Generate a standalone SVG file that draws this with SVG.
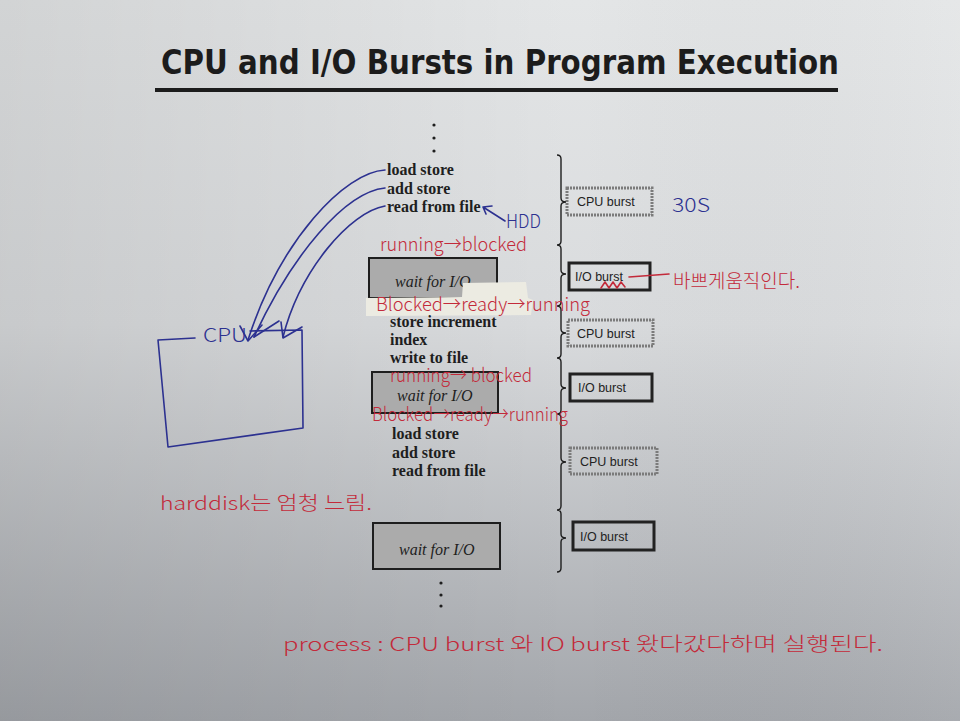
<svg xmlns="http://www.w3.org/2000/svg" width="960" height="721" viewBox="0 0 960 721">
<defs>
<linearGradient id="bg" x1="0" y1="0" x2="0" y2="1">
<stop offset="0" stop-color="#e4e6e7"/>
<stop offset="0.45" stop-color="#d9dbdd"/>
<stop offset="1" stop-color="#a3a6ab"/>
</linearGradient>
<linearGradient id="bgside" x1="0" y1="0" x2="1" y2="0">
<stop offset="0" stop-color="#000" stop-opacity="0.08"/>
<stop offset="0.6" stop-color="#000" stop-opacity="0"/>
<stop offset="1" stop-color="#fff" stop-opacity="0.06"/>
</linearGradient>
<style>
.slide{font-family:"Liberation Serif","DejaVu Serif",serif;font-weight:bold;font-size:16px;fill:#1e1e1e}
.wait{font-family:"Liberation Serif","DejaVu Serif",serif;font-style:italic;font-size:16px;fill:#1e1e1e}
.waitbox{fill:#ababab;stroke:#1e1e1e;stroke-width:2}
.cpub{fill:none;stroke:#7b7b7b;stroke-width:3;stroke-dasharray:2 1}
.iob{fill:none;stroke:#222;stroke-width:3}
.blab{font-family:"Liberation Sans",Arial,sans-serif;font-size:12.5px;fill:#222}
.hand{font-family:"Noto Sans CJK KR","Noto Sans",sans-serif;font-weight:300;font-size:19px}
.red{fill:#c32a3a}
.blue{fill:#2c3190}
.rl{fill:none;stroke:#c32a3a;stroke-width:1.6;stroke-linecap:round;stroke-linejoin:round}
.bl{fill:none;stroke:#2c3190;stroke-width:1.6;stroke-linecap:round;stroke-linejoin:round}
.brace{fill:none;stroke:#1e1e1e;stroke-width:1.4}
.dot{fill:#1e1e1e}
</style>
</defs>
<rect width="960" height="721" fill="url(#bg)"/>
<rect width="960" height="721" fill="url(#bgside)"/>

<g id="title">
<text x="161" y="74" font-family="DejaVu Sans,Verdana,sans-serif" font-weight="bold" font-size="33" fill="#1c1c1c" textLength="678" lengthAdjust="spacingAndGlyphs">CPU and I/O Bursts in Program Execution</text>
<rect x="155" y="88" width="683" height="4" fill="#1c1c1c"/>
</g>

<g id="dots-top">
<circle class="dot" cx="434" cy="125" r="1.6"/>
<circle class="dot" cx="434" cy="138" r="1.6"/>
<circle class="dot" cx="434" cy="151" r="1.6"/>
</g>

<g id="code1">
<text class="slide" x="387" y="175">load store</text>
<text class="slide" x="387" y="194">add store</text>
<text class="slide" x="387" y="212">read from file</text>
</g>

<g id="wait1">
<rect class="waitbox" x="369" y="258" width="128" height="40"/>
<text class="wait" x="395" y="287">wait for I/O</text>
</g>

<g id="tape">
<path d="M366,298 L462,297 L463,283 L526,282 L528,298 L533,300 L531,315 L366,316 Z" fill="#ecebe2"/>
</g>

<g id="code2">
<text class="slide" x="390" y="327">store increment</text>
<text class="slide" x="390" y="345">index</text>
<text class="slide" x="390" y="363">write to file</text>
</g>

<g id="wait2">
<rect class="waitbox" x="372" y="372" width="126" height="41"/>
<text class="wait" x="397" y="401">wait for I/O</text>
</g>

<g id="code3">
<text class="slide" x="392" y="439">load store</text>
<text class="slide" x="392" y="458">add store</text>
<text class="slide" x="392" y="476">read from file</text>
</g>

<g id="wait3">
<rect class="waitbox" x="373" y="523" width="127" height="46"/>
<text class="wait" x="399" y="555">wait for I/O</text>
</g>

<g id="dots-bottom">
<circle class="dot" cx="441" cy="583" r="1.6"/>
<circle class="dot" cx="441" cy="595" r="1.6"/>
<circle class="dot" cx="441" cy="606" r="1.6"/>
</g>

<g id="cpu-burst-1">
<rect class="cpub" x="567" y="188" width="85" height="27"/>
<text class="blab" x="577" y="206">CPU burst</text>
</g>
<g id="io-burst-1">
<rect class="iob" x="569" y="263" width="81" height="27"/>
<text class="blab" x="575" y="281">I/O burst</text>
</g>
<g id="cpu-burst-2">
<rect class="cpub" x="568" y="320" width="85" height="26"/>
<text class="blab" x="577" y="338">CPU burst</text>
</g>
<g id="io-burst-2">
<rect class="iob" x="570" y="374" width="82" height="27"/>
<text class="blab" x="578" y="392">I/O burst</text>
</g>
<g id="cpu-burst-3">
<rect class="cpub" x="570" y="448" width="87" height="26"/>
<text class="blab" x="580" y="466">CPU burst</text>
</g>
<g id="io-burst-3">
<rect class="iob" x="573" y="522" width="81" height="28"/>
<text class="blab" x="580" y="541">I/O burst</text>
</g>

<g id="cpu">
<path class="bl" d="M158,340 L195,338 M250,331 L302,330 L303,428 L168,447 L158,340" stroke-width="1.8"/>
<text class="hand blue" x="203" y="342" font-size="22" textLength="44" lengthAdjust="spacingAndGlyphs">CPU</text>
</g>

<g id="connectors">
<path class="brace" d="M557,155 Q561,155 561,159 L561,198 Q561,202 566,202 Q561,202 561,206 L561,241 Q561,245 557,245 Q561,245 561,249 L561,270 Q561,274 566,274 Q561,274 561,278 L561,302 Q561,306 557,306 Q561,306 561,310 L561,329 Q561,333 566,333 Q561,333 561,337 L561,354 Q561,358 557,358 Q561,358 561,362 L561,384 Q561,388 566,388 Q561,388 561,392 L561,410 Q561,414 557,414 Q561,414 561,418 L561,458 Q561,462 566,462 Q561,462 561,466 L561,506 Q561,510 557,510 Q561,510 561,514 L561,534 Q561,538 566,538 Q561,538 561,542 L561,568 Q561,572 557,572"/>
<path class="bl" d="M385,170 C345,172 280,240 248,340"/>
<path class="bl" d="M240,326 L248,341 L262,325"/>
<path class="bl" d="M385,188 C345,192 292,255 254,337"/>
<path class="bl" d="M254,337 L279,321"/>
<path class="bl" d="M385,206 C350,212 300,270 283,337"/>
<path class="bl" d="M281,322 L283,338 L302,327"/>
<path class="bl" d="M505,221 L483,207 M483,207 L492,206 M483,207 L486,214"/>
<path class="rl" d="M629,277 L669,274"/>
<path class="rl" d="M601,288 L605,282 L609,288 L613,282 L617,288 L621,282 L625,287"/>
</g>

<g id="notes">
<text class="hand blue" x="672" y="212" font-size="20" textLength="38" lengthAdjust="spacingAndGlyphs">30S</text>
<text class="hand blue" x="506" y="228" textLength="35" lengthAdjust="spacingAndGlyphs">HDD</text>
<text class="hand red" x="380" y="251" textLength="147" lengthAdjust="spacingAndGlyphs">running→blocked</text>
<text class="hand red" x="376" y="311" font-size="18" textLength="214" lengthAdjust="spacingAndGlyphs">Blocked→ready→running</text>
<text class="hand red" x="390" y="382" font-size="18" textLength="142" lengthAdjust="spacingAndGlyphs">running→ blocked</text>
<text class="hand red" x="372" y="421" font-size="18" textLength="196" lengthAdjust="spacingAndGlyphs">Blocked→ready→running</text>
<text class="hand red" x="673" y="288" font-size="20" textLength="127" lengthAdjust="spacingAndGlyphs">바쁘게움직인다.</text>
<text class="hand red" x="160" y="510" font-size="22" textLength="212" lengthAdjust="spacingAndGlyphs">harddisk는 엄청 느림.</text>
<text class="hand red" x="283" y="651" font-size="22" textLength="600" lengthAdjust="spacingAndGlyphs">process : CPU burst 와  IO burst  왔다갔다하며  실행된다.</text>
</g>
</svg>
